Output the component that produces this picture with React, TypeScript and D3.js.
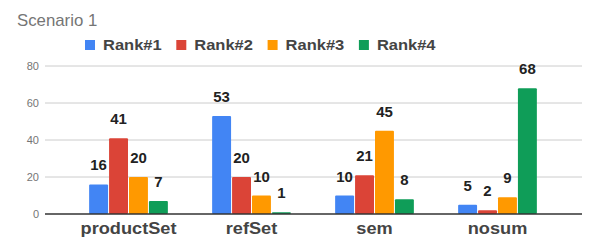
import React from 'react'
import * as d3 from 'd3'

const categories = ['productSet', 'refSet', 'sem', 'nosum']
const series = ['Rank#1', 'Rank#2', 'Rank#3', 'Rank#4']
const rank1 = [16, 53, 10, 5]
const rank2 = [41, 20, 21, 2]
const rank3 = [20, 10, 45, 9]
const rank4 = [7, 1, 8, 68]
const yTicks = [0, 20, 40, 60, 80]
const colors = ['#4285F4', '#DB4437', '#FF9900', '#0F9D58']

const values = [rank1, rank2, rank3, rank4]

// text slightly stretched sideways, like the reference rendering
const Wide = ({ x, y, sx, children, ...rest }: any) => (
  <text transform={`translate(${x},${y}) scale(${sx},1)`} {...rest}>
    {children}
  </text>
)

const App = () => {
  const width = 600
  const height = 250
  const left = 45
  const right = 582

  const y = d3.scaleLinear().domain([0, 80]).range([214, 66])
  const x0 = d3
    .scaleBand()
    .domain(categories)
    .range([67, 559])
    .paddingInner(0.36)
    .paddingOuter(0.18)
  const x1 = d3
    .scaleBand()
    .domain(series)
    .range([0, x0.bandwidth()])
    .paddingInner(0.05)

  const font = 'Arial, "Liberation Sans", sans-serif'

  return (
    <svg
      width={width}
      height={height}
      style={{ position: 'absolute', left: 0, top: 0 }}
      fontFamily={font}
    >
      <rect width={width} height={height} fill="#fff" />
      <Wide x={17} y={26} sx={1.05} fontSize={16} fill="#757575">
        Scenario 1
      </Wide>

      {series.map((s, i) => (
        <g key={s} transform={`translate(${85 + i * 91.3},0)`}>
          <rect x={0} y={40} width={10} height={10} fill={colors[i]} />
          <Wide x={18} y={50} sx={1.1} fontSize={15} fontWeight="bold" fill="#444">
            {s}
          </Wide>
        </g>
      ))}

      {yTicks.map((t) => (
        <g key={t}>
          {t > 0 && (
            <line x1={left} x2={right} y1={y(t)} y2={y(t)} stroke="#ccc" strokeWidth={1} />
          )}
          <text
            x={39}
            y={y(t) + 4}
            textAnchor="end"
            fontSize={11}
            fill="#757575"
          >
            {t}
          </text>
        </g>
      ))}

      {categories.map((c, ci) => (
        <g key={c} transform={`translate(${x0(c)},0)`}>
          {series.map((s, si) => {
            const v = values[si][ci]
            const bx = x1(s) as number
            const bw = x1.bandwidth()
            return (
              <g key={s}>
                <rect
                  x={bx}
                  y={y(v)}
                  width={bw}
                  height={y(0) - y(v)}
                  fill={colors[si]}
                  rx={1}
                />
                <Wide
                  x={bx + bw / 2}
                  y={y(v) - 14}
                  sx={1.07}
                  textAnchor="middle"
                  fontSize={14}
                  fontWeight="bold"
                  fill="#222"
                >
                  {v}
                </Wide>
              </g>
            )
          })}
          <Wide
            x={x0.bandwidth() / 2}
            y={234}
            sx={1.07}
            textAnchor="middle"
            fontSize={17}
            fontWeight="bold"
            fill="#444"
          >
            {c}
          </Wide>
        </g>
      ))}

      <line x1={left} x2={right} y1={y(0)} y2={y(0)} stroke="#333" strokeWidth={1.5} />
    </svg>
  )
}

export default App
